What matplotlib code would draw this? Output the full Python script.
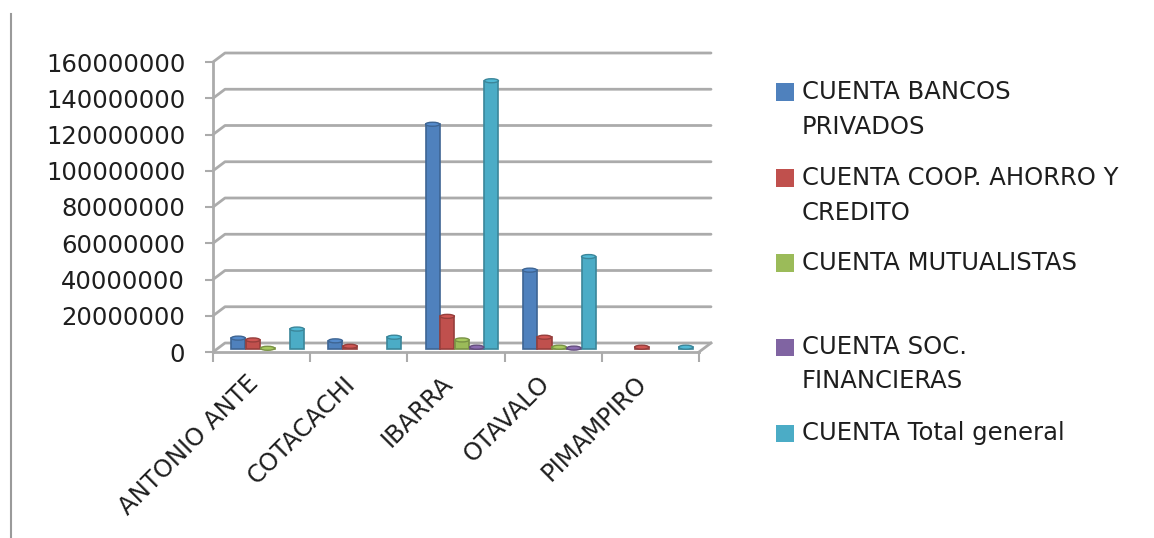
import matplotlib
matplotlib.use("Agg")
import matplotlib.pyplot as plt
import matplotlib.colors as mcolors
from matplotlib.patches import Ellipse, Rectangle
from matplotlib.lines import Line2D
from matplotlib.transforms import ScaledTranslation

# ---- data -------------------------------------------------------------
cantones = ["ANTONIO ANTE", "COTACACHI", "IBARRA", "OTAVALO", "PIMAMPIRO"]

bancos_privados = [6.0e6, 4.5e6, 124.0e6, 43.5e6, 0.0]
coop_ahorro_credito = [5.0e6, 1.5e6, 18.0e6, 6.5e6, 1.0e6]
mutualistas = [0.4e6, 0.0, 5.0e6, 1.0e6, 0.0]
soc_financieras = [0.0, 0.0, 1.0e6, 0.5e6, 0.0]
total_general = [11.0e6, 6.5e6, 148.0e6, 51.0e6, 1.0e6]

series_labels = [
    ["CUENTA BANCOS", "PRIVADOS"],
    ["CUENTA COOP. AHORRO Y", "CREDITO"],
    ["CUENTA MUTUALISTAS"],
    ["CUENTA SOC.", "FINANCIERAS"],
    ["CUENTA Total general"],
]
series_values = [bancos_privados, coop_ahorro_credito, mutualistas,
                 soc_financieras, total_general]
series_colors = ["#4F81BD", "#C0504D", "#9BBB59", "#8064A2", "#4BACC6"]

y_ticks = [0, 20e6, 40e6, 60e6, 80e6, 100e6, 120e6, 140e6, 160e6]

# ---- figure -----------------------------------------------------------
W, H, DPI = 1154, 538, 100
fig = plt.figure(figsize=(W / DPI, H / DPI), dpi=DPI)
fig.patch.set_facecolor("white")

ax_l, ax_r, ax_t, ax_b = 213, 699, 62, 352
ax = fig.add_axes([ax_l / W, (H - ax_b) / H, (ax_r - ax_l) / W, (ax_b - ax_t) / H])
ax.set_xlim(0, len(cantones))
ax.set_ylim(0, 160e6)
ax.set_facecolor("none")

grid_c = "#ababab"
text_c = "#1e1e1e"
font = "DejaVu Sans"

# depth of the 3-D box, in pixels
depth_x, depth_y = 12, 9
px_per_x = (ax_r - ax_l) / len(cantones)
px_per_y = (ax_b - ax_t) / 160e6
dx = depth_x / px_per_x
dy = depth_y / px_per_y

# back wall gridlines with the bevel joining them to the value axis
for yv in y_ticks:
    ax.plot([0, dx, len(cantones) + dx], [yv, yv + dy, yv + dy],
            color=grid_c, lw=2.0, solid_capstyle="round", clip_on=False, zorder=1)
# right edge of the floor
ax.plot([len(cantones), len(cantones) + dx], [0, dy], color=grid_c, lw=2.0,
        clip_on=False, zorder=1)

# axes lines
for side in ("top", "right"):
    ax.spines[side].set_visible(False)
for side in ("left", "bottom"):
    ax.spines[side].set_color(grid_c)
    ax.spines[side].set_linewidth(2.0)

ax.set_yticks(y_ticks)
ax.set_yticklabels([f"{int(v)}" for v in y_ticks])
ax.tick_params(axis="y", direction="out", length=6, width=1.5, color=grid_c,
               pad=14, labelsize=17.5, labelcolor=text_c)
for lab in ax.get_yticklabels():
    lab.set_fontfamily(font)

# category ticks at the boundaries, slanted names under each category
label_shift = 16 / px_per_x
ax.set_xticks(range(len(cantones) + 1))
ax.set_xticklabels([])
ax.set_xticks([i + 0.5 - label_shift for i in range(len(cantones))], minor=True)
ax.set_xticklabels(cantones, minor=True, rotation=45, ha="right", va="top",
                   rotation_mode="anchor", fontsize=17.5, color=text_c,
                   fontfamily=font)
ax.tick_params(axis="x", which="major", direction="out", length=7, width=1.5,
               color=grid_c)
ax.tick_params(axis="x", which="minor", length=0, pad=14)

# ---- columns (placed halfway into the depth of the box) -----------------
shift = ax.transData + ScaledTranslation(6 / DPI, 3 / DPI, fig.dpi_scale_trans)
bar_w = 14.7 / px_per_x
n = len(series_values)
cap_h = 4 / px_per_y
for k, (vals, col) in enumerate(zip(series_values, series_colors)):
    edge = tuple(c * 0.78 for c in mcolors.to_rgb(col))
    top = tuple(min(1, c * 1.08) for c in mcolors.to_rgb(col))
    for i, v in enumerate(vals):
        if v <= 0:
            continue
        x = i + 0.5 + (k - (n - 1) / 2) * bar_w
        ax.bar(x, v, width=bar_w * 0.96, color=col, edgecolor=edge, lw=1.2,
               transform=shift, clip_on=False, zorder=3)
        ax.add_patch(Ellipse((x, v), bar_w * 0.96, cap_h, facecolor=top,
                             edgecolor=edge, lw=1.0, transform=shift,
                             clip_on=False, zorder=4))

# ---- legend -------------------------------------------------------------
entry_y = [92, 178, 263, 347, 433]
line_step = 34.5
for lines, col, yc in zip(series_labels, series_colors, entry_y):
    fig.patches.append(Rectangle(((776) / W, (H - yc - 8.5) / H), 18 / W, 17 / H,
                                 facecolor=col, edgecolor="none",
                                 transform=fig.transFigure, figure=fig))
    for j, line in enumerate(lines):
        fig.text(802 / W, (H - (yc + j * line_step)) / H, line, fontsize=17.5,
                 color=text_c, fontfamily=font, va="center", ha="left")

# page border on the left
fig.add_artist(Line2D([11 / W, 11 / W], [0, (H - 14) / H], color="#9a9a9a",
                      lw=1.5, transform=fig.transFigure))

fig.savefig("out.png", dpi=DPI)
